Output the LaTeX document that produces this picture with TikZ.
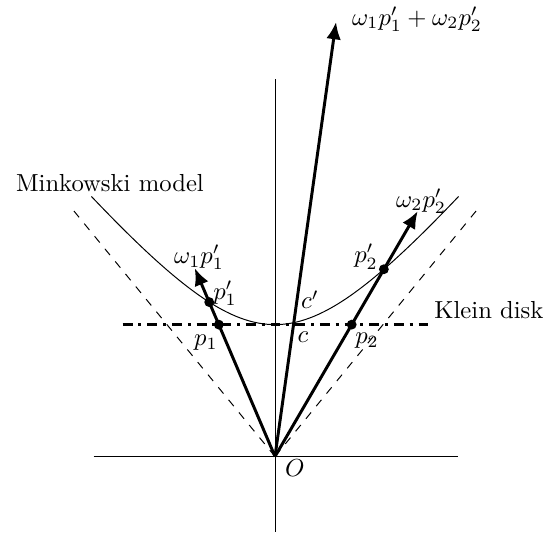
\documentclass[tikz,border=0pt]{standalone}
\usetikzlibrary{arrows.meta}
\begin{document}
\begin{tikzpicture}[x=1.54cm, y=1.88cm,
  vec/.style={very thick,-{Latex[length=7pt,width=6pt]}},
  dot/.style={circle,fill,inner sep=0pt,minimum size=4pt},
  cone/.style={dash pattern=on 3.3pt off 3.3pt},
  klein/.style={very thick,dash pattern=on 4pt off 2.4pt on 1.2pt off 2.4pt}]
\useasboundingbox (-2.546,-0.583) rectangle (2.583,3.462);
% axes and light cone
\coordinate (O) at (0,0);
\coordinate (xl) at (-1.68,0);
\coordinate (xr) at (1.69,0);
\coordinate (yb) at (0,-0.57);
\coordinate (yt) at (0,2.86);
\draw (xl) -- (xr);
\draw (yb) -- (yt);
\coordinate (al) at (-1.87,1.87);
\coordinate (ar) at (1.87,1.87);
\draw[cone] (O) -- (al);
\draw[cone] (O) -- (ar);
% hyperboloid and Klein disk
\draw[domain=-1.7:1.7,samples=80] plot ({\x},{sqrt(1+\x*\x)});
\coordinate (kl) at (-1.41,1);
\coordinate (kr) at (1.43,1);
\draw[klein] (kl) -- (kr);
% vectors
\coordinate (w1) at (-0.743,1.428);
\coordinate (w2) at (1.321,1.860);
\coordinate (s) at (0.565,3.295);
\draw[vec] (O) -- (w1);
\draw[vec] (O) -- (w2);
\draw[vec] (O) -- (s);
\node[dot] (p1) at (-0.52,1) {};
\node[dot] (p1m) at (-0.609,1.171) {};
\node[dot] (p2) at (0.71,1) {};
\node[dot] (p2m) at (1.008,1.420) {};
% labels
\node (lmink) at (-1.528,2.076) {Minkowski model};
\node (lklein) at (1.981,1.114) {Klein disk};
\node (lw1) at (-0.704,1.508) {$\omega_1p_1'$};
\node (lp1m) at (-0.463,1.235) {$p_1'$};
\node (lp1) at (-0.639,0.864) {$p_1$};
\node (lw2) at (1.352,1.939) {$\omega_2p_2'$};
\node (lp2m) at (0.843,1.515) {$p_2'$};
\node (lp2) at (0.852,0.879) {$p_2$};
\node (lcm) at (0.324,1.189) {$c'$};
\node (lc) at (0.259,0.902) {$c$};
\node (lO) at (0.185,-0.091) {$O$};
\node (ls) at (1.315,3.318) {$\omega_1p_1'+\omega_2p_2'$};
\end{tikzpicture}
\end{document}
